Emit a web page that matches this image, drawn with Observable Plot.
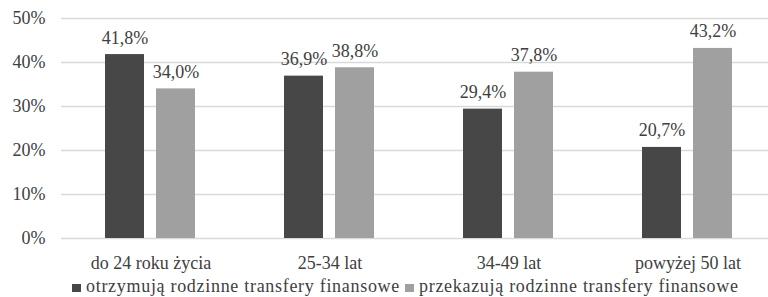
<!DOCTYPE html>
<html>
<head>
<meta charset="utf-8">
<script src="https://cdn.jsdelivr.net/npm/d3@7"></script>
<script src="https://cdn.jsdelivr.net/npm/@observablehq/plot@0.6"></script>
<style>
  html, body { margin: 0; padding: 0; background: #fff; overflow: hidden; }
  #chart { position: relative; width: 768px; height: 297px; }
  #chart svg { display: block; }
  .legend { position: relative; height: 21px; font-size: 18px; font-family: 'Liberation Serif', 'Times New Roman', 'DejaVu Serif', serif; color: #404040; }
  .legend .item { position: absolute; top: 0; line-height: 21px; white-space: nowrap; letter-spacing: 0.7px; }
  .legend .sw { display: inline-block; width: 9px; height: 8px; margin-right: 5px; vertical-align: 0px; }
</style>
</head>
<body>
<div id="chart"></div>
<script>
const groups = ["do 24 roku życia", "25-34 lat", "34-49 lat", "powyżej 50 lat"];
const seriesNames = ["otrzymują rodzinne transfery finansowe", "przekazują rodzinne transfery finansowe"];
const receive = [41.8, 36.9, 29.4, 20.7];
const give = [34.0, 38.8, 37.8, 43.2];
const yTicks = [0, 10, 20, 30, 40, 50];
const colors = ["#474747", "#a0a0a0"];

const data = [];
groups.forEach((g, i) => {
  data.push({group: g, series: seriesNames[0], value: receive[i]});
  data.push({group: g, series: seriesNames[1], value: give[i]});
});
const fmt = v => v.toFixed(1).replace(".", ",") + "%";
const FONT = "'Liberation Serif', 'Times New Roman', 'DejaVu Serif', serif";

const plot = Plot.plot({
  width: 768,
  height: 276,
  marginLeft: 59,
  marginRight: -10,
  marginTop: 18,
  marginBottom: 38,
  style: {fontFamily: FONT, fontSize: "18px", color: "#404040", background: "#fff"},
  fx: {domain: groups, padding: 0, label: null, axis: "bottom", tickSize: 0, tickPadding: 18},
  x: {domain: seriesNames, axis: null, paddingInner: 0.23, paddingOuter: 0.846},
  y: {domain: [0, 50], ticks: yTicks, tickFormat: d => d + "%", label: null, tickSize: 0, tickPadding: 16},
  color: {domain: seriesNames, range: colors},
  marks: [
    Plot.gridY(yTicks, {stroke: "#d9d9d9", strokeOpacity: 1, strokeWidth: 1.5}),
    Plot.barY(data, {fx: "group", x: "series", y: "value", fill: "series"}),
    Plot.text(data, {fx: "group", x: "series", y: "value", text: d => fmt(d.value), lineAnchor: "bottom", dy: -11, fill: "#404040", fontSize: 18})
  ]
});

const chart = document.getElementById("chart");
chart.appendChild(plot);

const legend = document.createElement("div");
legend.className = "legend";
const lefts = [72, 405];
seriesNames.forEach((s, i) => {
  const item = document.createElement("span");
  item.className = "item";
  item.style.left = lefts[i] + "px";
  const sw = document.createElement("span");
  sw.className = "sw";
  sw.style.background = colors[i];
  item.appendChild(sw);
  item.appendChild(document.createTextNode(s));
  legend.appendChild(item);
});
chart.appendChild(legend);
</script>
</body>
</html>
